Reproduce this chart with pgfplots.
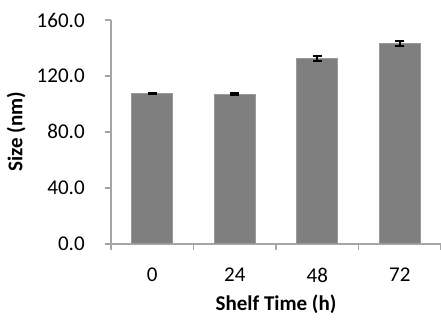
\documentclass[border=0pt]{standalone}
\usepackage{fontspec}
\setmainfont{Carlito}
\usepackage{pgfplots}
\pgfplotsset{compat=1.18}
\definecolor{axgray}{HTML}{A6A6A6}
\definecolor{bargray}{HTML}{7F7F7F}
\begin{document}
\begin{tikzpicture}
\begin{axis}[
  scale only axis,
  width=157pt, height=106.4pt,
  xmin=-0.5, xmax=3.5,
  ymin=0, ymax=160,
  axis x line=bottom, axis y line=left,
  axis line style={draw=axgray, line width=0.8pt, -},
  xtick={0,1,2,3},
  xticklabels={0,24,48,72},
  minor xtick={-0.5,0.5,1.5,2.5,3.5},
  ytick={0,40,80,120,160},
  major x tick style={draw=none},
  minor x tick style={draw=axgray, line width=0.8pt},
  y tick style={draw=axgray, line width=0.8pt},
  tick align=outside,
  major tick length=3pt, minor tick length=3pt,
  yticklabel style={/pgf/number format/fixed, /pgf/number format/fixed zerofill, /pgf/number format/precision=1, /pgf/number format/assume math mode=true, xshift=-6pt},
  xticklabel style={/pgf/number format/assume math mode=true, yshift=-5pt},
  ticklabel style={font=\fontsize{10}{12}\selectfont},
  xlabel={\textbf{Shelf Time (h)}},
  ylabel={\textbf{Size (nm)}},
  label style={font=\fontsize{10}{12}\selectfont},
  xlabel style={yshift=1pt},
  ylabel style={yshift=-1.5pt},
  clip=false,
]
\addplot[ybar, bar width=19.5pt, fill=bargray, draw=bargray!80!white, line width=0.4pt,
  error bars/.cd, y dir=both, y explicit,
  error bar style={black, line width=1pt},
  error mark options={black, line width=1pt, mark size=2.2pt, rotate=90}]
coordinates {
  (0,107.5) +- (0,0.5)
  (1,107.0) +- (0,0.6)
  (2,132.6) +- (0,1.6)
  (3,143.3) +- (0,2.0)
};
\coordinate (bl) at (rel axis cs:-0.3364,-0.3468);
\coordinate (tr) at (rel axis cs:1.0,1.0895);
\end{axis}
\pgfresetboundingbox
\path (bl) rectangle (tr);
\end{tikzpicture}
\end{document}
